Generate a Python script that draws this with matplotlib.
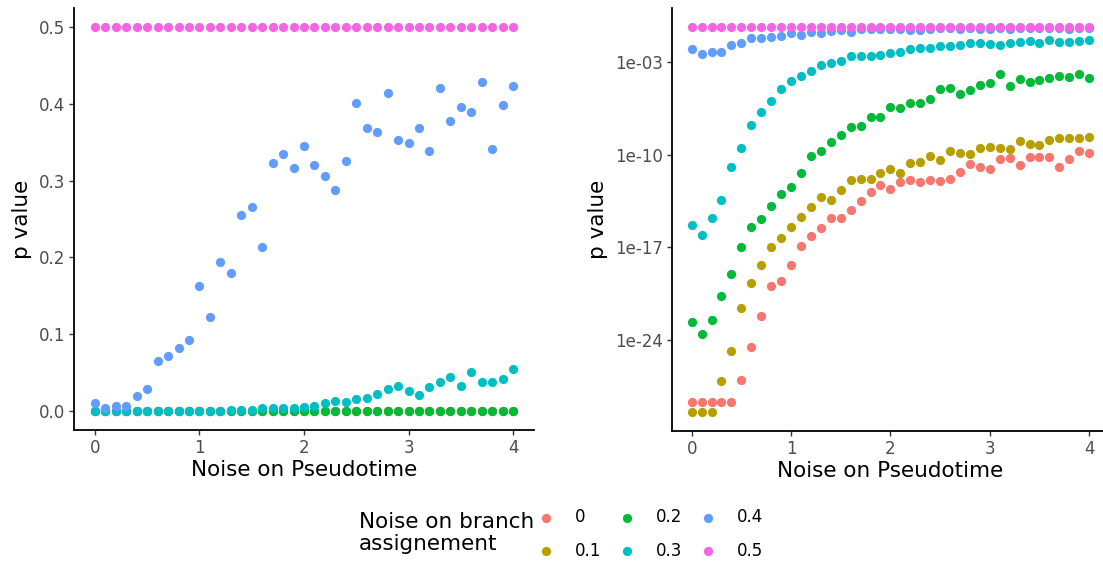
import numpy as np
import matplotlib
matplotlib.use("Agg")
import matplotlib.pyplot as plt
from matplotlib.ticker import FixedLocator, FixedFormatter

# noise on pseudotime (x) and noise on branch assignment (series)
noise_pt = [0.0, 0.1, 0.2, 0.3, 0.4, 0.5, 0.6, 0.7, 0.8, 0.9,
            1.0, 1.1, 1.2, 1.3, 1.4, 1.5, 1.6, 1.7, 1.8, 1.9,
            2.0, 2.1, 2.2, 2.3, 2.4, 2.5, 2.6, 2.7, 2.8, 2.9,
            3.0, 3.1, 3.2, 3.3, 3.4, 3.5, 3.6, 3.7, 3.8, 3.9, 4.0]
branch_labels = ['0', '0.1', '0.2', '0.3', '0.4', '0.5']

p_00 = [1.9e-29, 1.9e-29, 1.9e-29, 1.9e-29, 1.9e-29, 9.3e-28, 2.9e-25, 6.5e-23, 1.2e-20, 2.7e-20,
        4.7e-19, 1.35e-17, 7.2e-17, 3.1e-16, 1.6e-15, 1.7e-15, 6.8e-15, 3.2e-14, 1.5e-13, 5.2e-13,
        2.6e-13, 8.3e-13, 1.3e-12, 8.3e-13, 1.26e-12, 1.0e-12, 1.4e-12, 5.0e-12, 2.0e-11, 1.26e-11,
        8.9e-12, 4.6e-11, 5.8e-11, 1.7e-11, 6.5e-11, 6.9e-11, 6.9e-11, 1.26e-11, 4.6e-11, 2.0e-10, 1.3e-10]
p_01 = [3.7e-30, 3.7e-30, 3.7e-30, 7.4e-28, 1.45e-25, 2.6e-22, 1.9e-20, 4.7e-19, 1.07e-17, 5.4e-17,
        3.5e-16, 1.9e-15, 1.07e-14, 6.2e-14, 4.1e-14, 2.2e-13, 1.17e-12, 1.4e-12, 1.4e-12, 4.0e-12,
        8.5e-12, 4.0e-12, 2.3e-11, 2.75e-11, 8.1e-11, 3.9e-11, 1.86e-10, 1.45e-10, 1.23e-10, 3.3e-10,
        4.2e-10, 3.3e-10, 2.75e-10, 1.05e-09, 6.3e-10, 5.9e-10, 1.3e-09, 1.9e-09, 1.9e-09, 1.9e-09, 2.2e-09]
p_02 = [2.1e-23, 2.8e-24, 3.0e-23, 2.2e-21, 9.8e-20, 1.1e-17, 3.5e-16, 1.4e-15, 1.4e-14, 1.1e-13,
        3.9e-13, 4.0e-12, 8.1e-11, 1.9e-10, 9.1e-10, 3.0e-09, 1.3e-08, 1.6e-08, 7.2e-08, 7.8e-08,
        4.2e-07, 3.7e-07, 8.7e-07, 7.9e-07, 1.6e-06, 9.1e-06, 1.2e-05, 3.8e-06, 8.5e-06, 1.8e-05,
        2.6e-05, 1.3e-04, 1.6e-05, 5.5e-05, 3.1e-05, 4.8e-05, 6.9e-05, 9.1e-05, 7.4e-05, 1.4e-04, 6.9e-05]
p_03 = [5.0e-16, 8.1e-17, 1.6e-15, 3.8e-14, 1.15e-11, 3.5e-10, 2.0e-08, 1.8e-07, 1.2e-06, 9.5e-06,
        4.1e-05, 9.8e-05, 2.2e-04, 5.9e-04, 9.3e-04, 1.26e-03, 3.2e-03, 3.2e-03, 3.2e-03, 3.4e-03,
        4.8e-03, 5.8e-03, 0.0105, 0.0125, 0.012, 0.016, 0.017, 0.022, 0.028, 0.032,
        0.026, 0.020, 0.031, 0.038, 0.044, 0.032, 0.051, 0.037, 0.037, 0.041, 0.054]
p_04 = [0.0102, 0.0043, 0.0063, 0.0065, 0.0195, 0.028, 0.065, 0.072, 0.082, 0.092,
        0.163, 0.122, 0.194, 0.180, 0.255, 0.266, 0.214, 0.323, 0.335, 0.317,
        0.345, 0.321, 0.306, 0.288, 0.325, 0.401, 0.369, 0.364, 0.414, 0.353,
        0.349, 0.369, 0.338, 0.421, 0.378, 0.396, 0.390, 0.428, 0.341, 0.398, 0.423]
p_05 = [0.5, 0.5, 0.5, 0.5, 0.5, 0.5, 0.5, 0.5, 0.5, 0.5,
        0.5, 0.5, 0.5, 0.5, 0.5, 0.5, 0.5, 0.5, 0.5, 0.5,
        0.5, 0.5, 0.5, 0.5, 0.5, 0.5, 0.5, 0.5, 0.5, 0.5,
        0.5, 0.5, 0.5, 0.5, 0.5, 0.5, 0.5, 0.5, 0.5, 0.5, 0.5]

series = [p_00, p_01, p_02, p_03, p_04, p_05]
colours = ['#F8766D', '#B79F00', '#00BA38', '#00BFC4', '#619CFF', '#F564E3']

plt.rcParams['font.family'] = 'DejaVu Sans'
W, H = 1103, 563
fig = plt.figure(figsize=(W / 100, H / 100), dpi=100)

ax1 = fig.add_axes([74 / W, 1 - 430 / H, 460 / W, 422 / H])
ax2 = fig.add_axes([671.8 / W, 1 - 431 / H, 437.2 / W, 423.5 / H])

dot = 44
for ax in (ax1, ax2):
    for vals, col, lab in zip(series, colours, branch_labels):
        ax.scatter(noise_pt, vals, s=dot, color=col, linewidths=0, label=lab, zorder=3)

ax1.set_xlim(-0.2, 4.2)
ax1.set_ylim(-0.025, 0.525)
ax1.set_yticks([0.0, 0.1, 0.2, 0.3, 0.4, 0.5])
ax1.set_yticklabels(['0.0', '0.1', '0.2', '0.3', '0.4', '0.5'])

ax2.set_yscale('log')
ax2.set_xlim(-0.2, 4.2)
ax2.set_ylim(10 ** -30.89, 10 ** 1.155)
ax2.yaxis.set_major_locator(FixedLocator([1e-24, 1e-17, 1e-10, 1e-03]))
ax2.yaxis.set_major_formatter(FixedFormatter(['1e-24', '1e-17', '1e-10', '1e-03']))
ax2.yaxis.set_minor_locator(FixedLocator([]))

for ax in (ax1, ax2):
    ax.set_xticks([0, 1, 2, 3, 4])
    ax.set_xticklabels(['0', '1', '2', '3', '4'])
    ax.spines['top'].set_visible(False)
    ax.spines['right'].set_visible(False)
    for s in ('left', 'bottom'):
        ax.spines[s].set_linewidth(1.3)
        ax.spines[s].set_color('black')
    ax.tick_params(length=3.5, width=1.0, color='#333333', labelcolor='#4D4D4D',
                   labelsize=12, pad=3)
    ax.set_xlabel('Noise on Pseudotime', fontsize=15.5, labelpad=2)
    ax.set_ylabel('p value', fontsize=15.5, labelpad=5)
    ax.patch.set_alpha(0)

handles, labels = ax1.get_legend_handles_labels()
fig.legend(handles, labels, ncol=3, loc='center left',
           bbox_to_anchor=(537.5 / W, 1 - 534 / H), frameon=False,
           fontsize=12, handlelength=1.0, handletextpad=1.24,
           columnspacing=1.03, labelspacing=0.9, borderpad=0,
           borderaxespad=0, markerscale=1.0)
fig.text(359 / W, 1 - 533 / H, 'Noise on branch\nassignement', fontsize=15.5,
         ha='left', va='center', linespacing=1.12)

fig.savefig('out.png', dpi=100)
